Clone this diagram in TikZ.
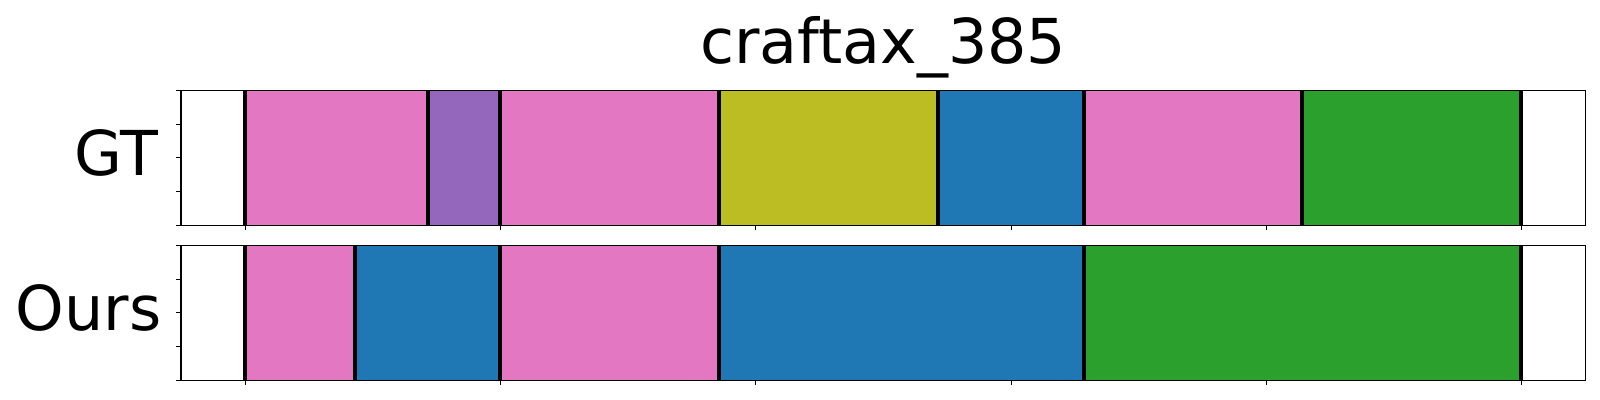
\documentclass[tikz,border=0pt]{standalone}
\usepackage{fontspec}
\setmainfont{DejaVu Sans}
\usetikzlibrary{positioning}

\definecolor{segpink}{HTML}{E377C2}
\definecolor{segpurple}{HTML}{9467BD}
\definecolor{segolive}{HTML}{BCBD22}
\definecolor{segblue}{HTML}{1F77B4}
\definecolor{seggreen}{HTML}{2CA02C}

\tikzset{
	seg/.style={line width=0.3pt},
	cut/.style={line width=1.05pt,draw=black},
	frame/.style={line width=0.3pt,draw=black},
	tickmark/.style={line width=0.3pt,draw=black},
	lbl/.style={font=\fontsize{17.6}{20}\selectfont,inner sep=0pt},
}

\begin{document}
\begin{tikzpicture}[x=0.01cm,y=-0.01cm]
		\useasboundingbox (0,0) rectangle (1600,400);
		
		\node[lbl,anchor=base] (title) at (883.3,63.3){craftax\_385};
		
		% GT row
		\node[lbl,anchor=base east] (gt) at (158.5,175){GT};
		
		\draw[seg,fill=segpink,draw=segpink!85!black] (245,90.3) rectangle (428,225.3);
		\draw[seg,fill=segpurple,draw=segpurple!85!black] (428,90.3) rectangle (500,225.3);
		\draw[seg,fill=segpink,draw=segpink!85!black] (500,90.3) rectangle (719,225.3);
		\draw[seg,fill=segolive,draw=segolive!85!black] (719,90.3) rectangle (937.7,225.3);
		\draw[seg,fill=segblue,draw=segblue!85!black] (937.7,90.3) rectangle (1084,225.3);
		\draw[seg,fill=segpink,draw=segpink!85!black] (1084,90.3) rectangle (1301.7,225.3);
		\draw[seg,fill=seggreen,draw=seggreen!85!black] (1301.7,90.3) rectangle (1521,225.3);
		
		\foreach \x in {245,428,500,719,937.7,1084,1301.7,1521}
			\draw[cut] (\x,90.3) -- (\x,225.3);
		
		\draw[frame] (181,90.3) rectangle (1585.7,225.3);
		\foreach \y in {90.3,124.05,157.8,191.55,225.3}
			\draw[tickmark] (176.1,\y) -- (181,\y);
		\foreach \k in {0,...,5}
			\draw[tickmark] (245.5+255.2*\k,225.3) -- (245.5+255.2*\k,230.2);
		
		% Ours row
		\node[lbl,anchor=base east] (ours) at (162,330){Ours};
		
		\draw[seg,fill=segpink,draw=segpink!85!black] (245,245.3) rectangle (354.7,380.3);
		\draw[seg,fill=segblue,draw=segblue!85!black] (354.7,245.3) rectangle (500,380.3);
		\draw[seg,fill=segpink,draw=segpink!85!black] (500,245.3) rectangle (719,380.3);
		\draw[seg,fill=segblue,draw=segblue!85!black] (719,245.3) rectangle (1084,380.3);
		\draw[seg,fill=seggreen,draw=seggreen!85!black] (1084,245.3) rectangle (1521,380.3);
		
		\foreach \x in {245,354.7,500,719,1084,1521}
			\draw[cut] (\x,245.3) -- (\x,380.3);
		
		\draw[frame] (181,245.3) rectangle (1585.7,380.3);
		\foreach \y in {245.3,279.05,312.8,346.55,380.3}
			\draw[tickmark] (176.1,\y) -- (181,\y);
		\foreach \k in {0,...,5}
			\draw[tickmark] (245.5+255.2*\k,380.3) -- (245.5+255.2*\k,385.2);
	\end{tikzpicture}
\end{document}
